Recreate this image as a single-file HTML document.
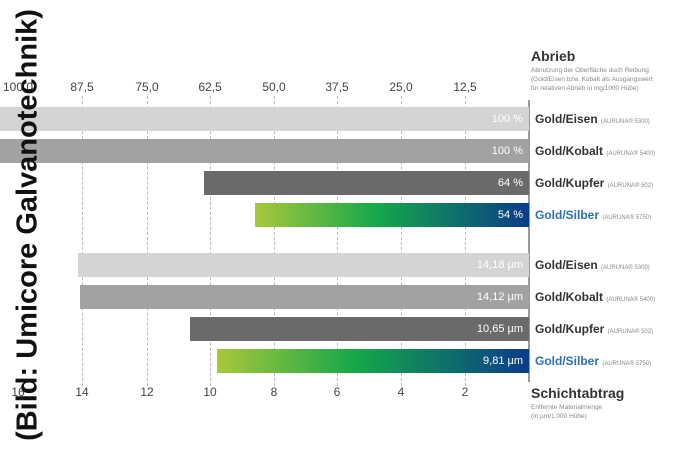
<!DOCTYPE html>
<html><head><style>
body{margin:0;width:690px;height:450px;background:#fff;overflow:hidden;position:relative;font-family:"Liberation Sans",sans-serif}
.a{position:absolute}
.bar{position:absolute;height:24px;color:#fff;font-size:11px;line-height:24px;text-align:right;padding-right:6px;box-sizing:border-box;right:161px}
.lab{position:absolute;left:535px;font-size:12px;font-weight:bold;color:#333;line-height:24px;white-space:nowrap;font-family:"Liberation Sans Narrow","Liberation Sans",sans-serif}
.lab small{font-size:6px;font-weight:normal;color:#888}
.tk{position:absolute;font-size:12px;color:#444;transform:translateX(-50%);font-family:"Liberation Sans Narrow","Liberation Sans",sans-serif}
.g{position:absolute;top:96px;height:290px;width:0;border-left:1px dashed #bbb}
.gr{background:linear-gradient(90deg,#a8c83a,#14a64a 45%,#0a3d8a)}
</style></head><body>
<div class="g" style="left:82px"></div><div class="g" style="left:147px"></div><div class="g" style="left:210px"></div><div class="g" style="left:274px"></div><div class="g" style="left:337px"></div><div class="g" style="left:401px"></div><div class="g" style="left:465px"></div>
<div class="a" style="left:528px;top:100px;width:2px;height:282px;background:#999"></div>
<div class="tk" style="left:18px;top:80px">100,0</div><div class="tk" style="left:82px;top:80px">87,5</div><div class="tk" style="left:147px;top:80px">75,0</div><div class="tk" style="left:210px;top:80px">62,5</div><div class="tk" style="left:274px;top:80px">50,0</div><div class="tk" style="left:337px;top:80px">37,5</div><div class="tk" style="left:401px;top:80px">25,0</div><div class="tk" style="left:465px;top:80px">12,5</div>
<div class="tk" style="left:18px;top:385px">16</div><div class="tk" style="left:82px;top:385px">14</div><div class="tk" style="left:147px;top:385px">12</div><div class="tk" style="left:210px;top:385px">10</div><div class="tk" style="left:274px;top:385px">8</div><div class="tk" style="left:337px;top:385px">6</div><div class="tk" style="left:401px;top:385px">4</div><div class="tk" style="left:465px;top:385px">2</div>
<div class="bar" style="left:0;top:107px;background:#d4d4d4">100 %</div>
<div class="bar" style="left:0;top:139px;background:#a2a2a2">100 %</div>
<div class="bar" style="left:204px;top:171px;background:#6a6a6a">64 %</div>
<div class="bar gr" style="left:255px;top:203px">54 %</div>
<div class="bar" style="left:78px;top:253px;background:#d4d4d4">14,18 µm</div>
<div class="bar" style="left:80px;top:285px;background:#a2a2a2">14,12 µm</div>
<div class="bar" style="left:190px;top:317px;background:#6a6a6a">10,65 µm</div>
<div class="bar gr" style="left:217px;top:349px">9,81 µm</div>
<div class="lab" style="top:107px">Gold/Eisen <small>(AURUNA® 5300)</small></div>
<div class="lab" style="top:139px">Gold/Kobalt <small>(AURUNA® 5400)</small></div>
<div class="lab" style="top:171px">Gold/Kupfer <small>(AURUNA® 502)</small></div>
<div class="lab" style="top:203px;color:#2a6fb8">Gold/Silber <small>(AURUNA® 5750)</small></div>
<div class="lab" style="top:253px">Gold/Eisen <small>(AURUNA® 5300)</small></div>
<div class="lab" style="top:285px">Gold/Kobalt <small>(AURUNA® 5400)</small></div>
<div class="lab" style="top:317px">Gold/Kupfer <small>(AURUNA® 502)</small></div>
<div class="lab" style="top:349px;color:#2a6fb8">Gold/Silber <small>(AURUNA® 5750)</small></div>
<div class="a" style="left:531px;top:48px;font-size:14px;font-weight:bold;color:#333">Abrieb</div>
<div class="a" style="left:531px;top:66px;font-size:6.5px;color:#888;line-height:9px;width:160px">Abnutzung der Oberfläche duch Reibung<br>(Gold/Eisen bzw. Kobalt als Ausgangswert<br>für relativen Abrieb in mg/1000 Hübe)</div>
<div class="a" style="left:531px;top:385px;font-size:14px;font-weight:bold;color:#333">Schichtabtrag</div>
<div class="a" style="left:531px;top:403px;font-size:6.5px;color:#888;line-height:9px">Entfernte Materialmenge<br>(in µm/1.000 Hübe)</div>
<div class="a" style="left:28px;top:225px;transform:translate(-50%,-50%) rotate(-90deg);font-size:29px;font-weight:bold;color:#111;white-space:nowrap">(Bild: Umicore Galvanotechnik)</div>
</body></html>
